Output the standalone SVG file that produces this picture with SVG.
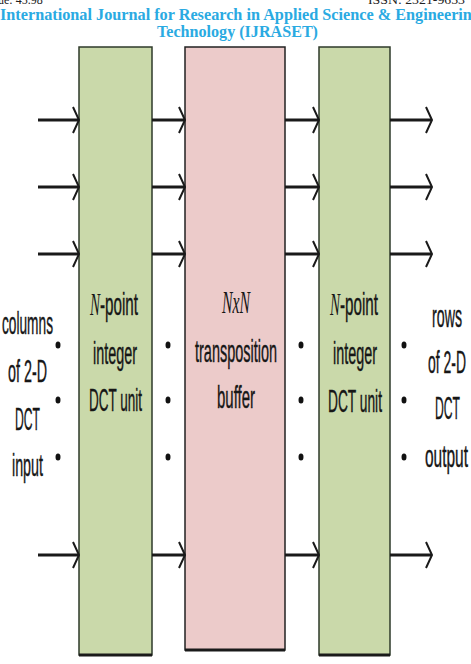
<svg xmlns="http://www.w3.org/2000/svg" width="471" height="664" viewBox="0 0 471 664">
<defs>
<style>
.hdr{font-family:"Liberation Serif",serif;font-size:12px;fill:#222}
.title{font-family:"Liberation Serif",serif;font-weight:bold;font-size:17px;fill:#2aaae2}
.lbl{font-family:"Liberation Sans",Arial,sans-serif;font-size:31px;fill:#161616;stroke:#161616;stroke-width:0.4}
.it{font-family:"Liberation Serif","Times New Roman",serif;font-style:italic;font-size:32px;fill:#161616}
.green{fill:#cad9aa;stroke:#2e3a2a;stroke-width:1.5}
.pink{fill:#eccbca;stroke:#222;stroke-width:1.5}
.bot{stroke:#1a1a1a;stroke-width:3}
.ln{stroke:#1a1a1a;stroke-width:3;fill:none}
.ch{stroke:#1a1a1a;stroke-width:2;fill:none}
.dot{fill:#111}
</style>
</defs>
<rect width="471" height="664" fill="#fff"/>
<g id="header">
<text class="hdr" x="-2" y="4">ue: 45.98</text>
<text class="hdr" x="368" y="4" textLength="97" lengthAdjust="spacingAndGlyphs">ISSN: 2321-9653</text>
<text class="title" x="0" y="20" textLength="480" lengthAdjust="spacingAndGlyphs">International Journal for Research in Applied Science &amp; Engineering</text>
<text class="title" x="157" y="37" textLength="161" lengthAdjust="spacingAndGlyphs">Technology (IJRASET)</text>
</g>
<g id="dct1">
<rect class="green" x="79" y="47" width="73" height="608"/>
<line class="bot" x1="79" y1="655" x2="152" y2="655"/>
<text class="it" x="90" y="315" textLength="10" lengthAdjust="spacingAndGlyphs">N</text>
<text class="lbl" x="100" y="315" textLength="38" lengthAdjust="spacingAndGlyphs">-point</text>
<text class="lbl" x="93" y="364" textLength="44" lengthAdjust="spacingAndGlyphs">integer</text>
<text class="lbl" x="89" y="411" textLength="53" lengthAdjust="spacingAndGlyphs">DCT unit</text>
</g>
<g id="buffer">
<rect class="pink" x="185" y="47" width="100" height="603"/>
<line class="bot" x1="185" y1="650" x2="285" y2="650"/>
<text class="it" x="222" y="313" font-size="27" textLength="28" lengthAdjust="spacingAndGlyphs">NxN</text>
<text class="lbl" x="195" y="362" textLength="82" lengthAdjust="spacingAndGlyphs">transposition</text>
<text class="lbl" x="217" y="408" textLength="38" lengthAdjust="spacingAndGlyphs">buffer</text>
</g>
<g id="dct2">
<rect class="green" x="319" y="47" width="71" height="608"/>
<line class="bot" x1="319" y1="655" x2="390" y2="655"/>
<text class="it" x="330" y="315" textLength="10" lengthAdjust="spacingAndGlyphs">N</text>
<text class="lbl" x="340" y="315" textLength="38" lengthAdjust="spacingAndGlyphs">-point</text>
<text class="lbl" x="333" y="364" textLength="44" lengthAdjust="spacingAndGlyphs">integer</text>
<text class="lbl" x="328" y="412" textLength="54" lengthAdjust="spacingAndGlyphs">DCT unit</text>
</g>
<g id="input-label">
<text class="lbl" x="2" y="334" textLength="51" lengthAdjust="spacingAndGlyphs">columns</text>
<text class="lbl" x="8" y="382" textLength="39" lengthAdjust="spacingAndGlyphs">of 2-D</text>
<text class="lbl" x="15" y="430" textLength="25" lengthAdjust="spacingAndGlyphs">DCT</text>
<text class="lbl" x="12" y="476" textLength="31" lengthAdjust="spacingAndGlyphs">input</text>
</g>
<g id="output-label">
<text class="lbl" x="432" y="327" textLength="30" lengthAdjust="spacingAndGlyphs">rows</text>
<text class="lbl" x="428" y="373" textLength="38" lengthAdjust="spacingAndGlyphs">of 2-D</text>
<text class="lbl" x="435" y="419" textLength="25" lengthAdjust="spacingAndGlyphs">DCT</text>
<text class="lbl" x="425" y="467" textLength="43" lengthAdjust="spacingAndGlyphs">output</text>
</g>
<g id="connectors">
<g id="arrows-in">
<path class="ln" d="M38 120H78M38 187H78M38 254H78M38 555H78"/>
<path class="ch" d="M73 107L79 120L73 133M73 174L79 187L73 200M73 241L79 254L73 267M73 542L79 555L73 568"/>
</g>
<g id="arrows-mid1">
<path class="ln" d="M152 120H184M152 187H184M152 254H184M152 555H184"/>
<path class="ch" d="M179 107L185 120L179 133M179 174L185 187L179 200M179 241L185 254L179 267M179 542L185 555L179 568"/>
</g>
<g id="arrows-mid2">
<path class="ln" d="M285 120H318M285 187H318M285 254H318M285 555H318"/>
<path class="ch" d="M313 107L319 120L313 133M313 174L319 187L313 200M313 241L319 254L313 267M313 542L319 555L313 568"/>
</g>
<g id="arrows-out">
<path class="ln" d="M390 120H431M390 187H431M390 254H431M390 555H431"/>
<path class="ch" d="M426 107L432 120L426 133M426 174L432 187L426 200M426 241L432 254L426 267M426 542L432 555L426 568"/>
</g>
</g>
<g id="dots">
<ellipse class="dot" cx="58" cy="345" rx="2.5" ry="3.5"/>
<ellipse class="dot" cx="58" cy="400" rx="2.5" ry="3.5"/>
<ellipse class="dot" cx="58" cy="457" rx="2.5" ry="3.5"/>
<ellipse class="dot" cx="168" cy="345" rx="2.5" ry="3.5"/>
<ellipse class="dot" cx="168" cy="400" rx="2.5" ry="3.5"/>
<ellipse class="dot" cx="168" cy="457" rx="2.5" ry="3.5"/>
<ellipse class="dot" cx="301" cy="345" rx="2.5" ry="3.5"/>
<ellipse class="dot" cx="301" cy="400" rx="2.5" ry="3.5"/>
<ellipse class="dot" cx="301" cy="457" rx="2.5" ry="3.5"/>
<ellipse class="dot" cx="404" cy="345" rx="2.5" ry="3.5"/>
<ellipse class="dot" cx="404" cy="400" rx="2.5" ry="3.5"/>
<ellipse class="dot" cx="404" cy="457" rx="2.5" ry="3.5"/>
</g>
</svg>
